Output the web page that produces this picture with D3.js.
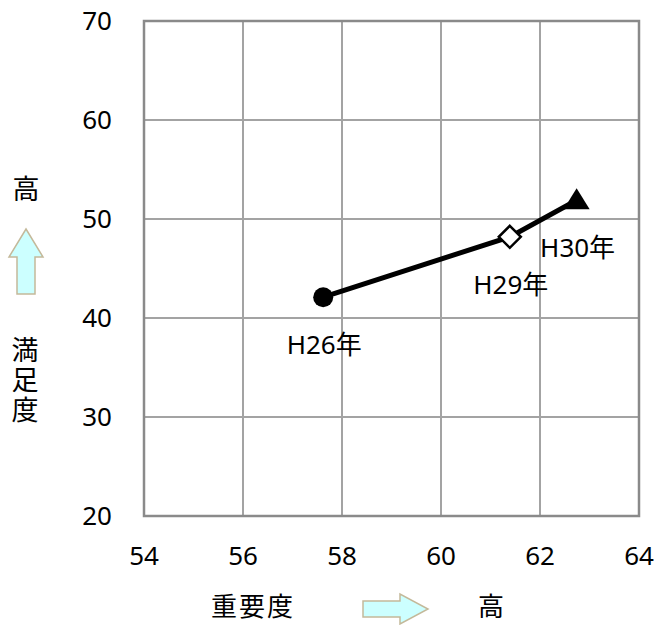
<!DOCTYPE html>
<html><head><meta charset="utf-8">
<script src="https://cdn.jsdelivr.net/npm/d3@7"></script>
<style>body{margin:0;background:#fff}</style>
</head><body>
<script>
const labels = ["H26年", "H29年", "H30年"];
const importance = [57.62, 61.39, 62.74];
const satisfaction = [42.1, 48.2, 51.9];
const markers = ["circle", "diamond", "triangle"];
const xTicks = [54, 56, 58, 60, 62, 64];
const yTicks = [20, 30, 40, 50, 60, 70];
const xTitle = "重要度";
const yTitle = "満足度";
const highLabel = "高";

const W = 656, H = 625;
const m = {l:144, r:639, t:21, b:516};
const font = "'Noto Sans','Noto Sans CJK JP',sans-serif";
const cjk = "'Noto Sans CJK JP',sans-serif";
const svg = d3.select("body").append("svg").attr("width", W).attr("height", H);
const x = d3.scaleLinear().domain([54, 64]).range([m.l, m.r]);
const y = d3.scaleLinear().domain([20, 70]).range([m.b, m.t]);

// grid
const g = svg.append("g");
g.selectAll(".vx").data(xTicks.slice(1, -1)).join("line")
  .attr("x1", d => x(d)).attr("x2", d => x(d)).attr("y1", m.t).attr("y2", m.b)
  .attr("stroke", "#a3a3a3").attr("stroke-width", 2);
g.selectAll(".hy").data(yTicks.slice(1, -1)).join("line")
  .attr("y1", d => y(d)).attr("y2", d => y(d)).attr("x1", m.l).attr("x2", m.r)
  .attr("stroke", "#a3a3a3").attr("stroke-width", 2);
g.append("rect").attr("x", m.l).attr("y", m.t).attr("width", m.r - m.l).attr("height", m.b - m.t)
  .attr("fill", "none").attr("stroke", "#8a8a8a").attr("stroke-width", 2.5);

// tick labels
svg.selectAll(".xt").data(xTicks).join("text")
  .attr("x", d => x(d)).attr("y", 565).attr("text-anchor", "middle")
  .attr("font-family", font).attr("font-size", 26).attr("fill", "#000").text(d => d);
svg.selectAll(".yt").data(yTicks).join("text")
  .attr("x", 112).attr("y", d => y(d)).attr("dy", "0.36em").attr("text-anchor", "end")
  .attr("font-family", font).attr("font-size", 26).attr("fill", "#000").text(d => d);

// line
const pts = importance.map((v, i) => [v, satisfaction[i]]);
svg.append("path").datum(pts)
  .attr("d", d3.line().x(d => x(d[0])).y(d => y(d[1])))
  .attr("fill", "none").attr("stroke", "#000").attr("stroke-width", 5);

// markers
pts.forEach((p, i) => {
  const cx = x(p[0]), cy = y(p[1]);
  if (markers[i] === "circle") {
    svg.append("circle").attr("cx", cx).attr("cy", cy).attr("r", 10).attr("fill", "#000");
  } else if (markers[i] === "diamond") {
    svg.append("path").attr("d", `M${cx},${cy-11}L${cx+11},${cy}L${cx},${cy+11}L${cx-11},${cy}Z`)
      .attr("fill", "#fff").attr("stroke", "#000").attr("stroke-width", 2.5);
  } else {
    svg.append("path").attr("d", `M${cx},${cy-12}L${cx+13},${cy+9}L${cx-13},${cy+9}Z`)
      .attr("fill", "#000");
  }
});

// point labels
svg.selectAll(".pl").data(pts).join("text")
  .attr("x", d => x(d[0]) + 1).attr("y", d => y(d[1]) + 57)
  .attr("text-anchor", "middle").attr("font-family", font).attr("font-size", 26)
  .attr("fill", "#000").text((d, i) => labels[i]);

// left titles
svg.append("text").attr("x", 26).attr("y", 199).attr("text-anchor", "middle")
  .attr("font-family", cjk).attr("font-size", 27).text(highLabel);
svg.append("text").attr("x", 25).attr("y", 336)
  .attr("font-family", cjk).attr("font-size", 27)
  .style("writing-mode", "vertical-rl").attr("letter-spacing", 3).text(yTitle);
// up arrow
svg.append("path")
  .attr("d", "M26,229L43,257L35,257L35,294L17,294L17,257L9,257Z")
  .attr("fill", "#ccffff").attr("stroke", "#c4b99a").attr("stroke-width", 1.5);

// bottom titles
svg.append("text").attr("x", 253).attr("y", 616).attr("text-anchor", "middle")
  .attr("font-family", cjk).attr("font-size", 26).attr("letter-spacing", 2).text(xTitle);
svg.append("text").attr("x", 491).attr("y", 616).attr("text-anchor", "middle")
  .attr("font-family", cjk).attr("font-size", 26).text(highLabel);
svg.append("path")
  .attr("d", "M363,601L400,601L400,594L428,609L400,624L400,617L363,617Z")
  .attr("fill", "#ccffff").attr("stroke", "#c4b99a").attr("stroke-width", 1.5);
</script>
</body></html>
